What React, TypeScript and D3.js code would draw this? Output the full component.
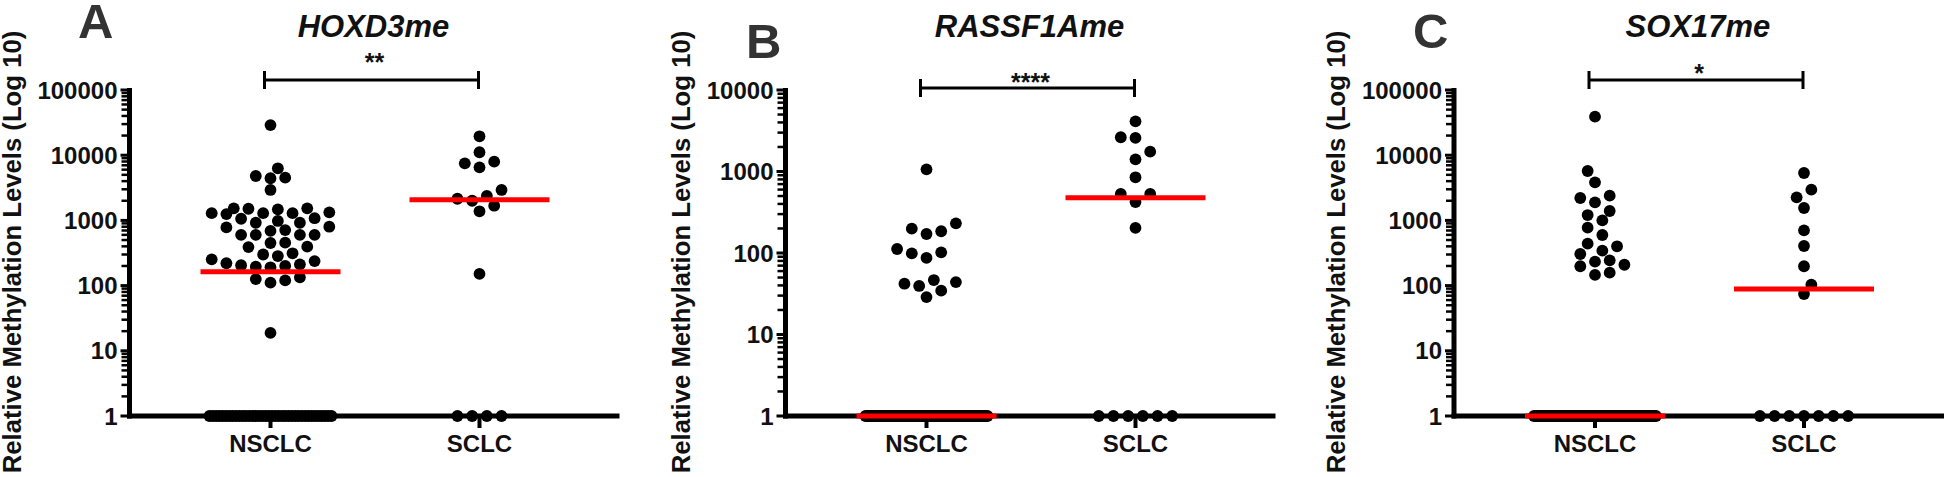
import React from 'react';
import * as d3 from 'd3';

// ---------- data ----------
const categories = ['NSCLC', 'SCLC'];
const panelLetters = ['A', 'B', 'C'];
const geneTitles = ['HOXD3me', 'RASSF1Ame', 'SOX17me'];
const significance = ['**', '****', '*'];
const yAxisTitle = 'Relative Methylation Levels (Log 10)';

const yTicksA = [1, 10, 100, 1000, 10000, 100000];
const yTicksB = [1, 10, 100, 1000, 10000];
const yTicksC = [1, 10, 100, 1000, 10000, 100000];

const hoxd3NSCLC = [29000, 6300, 4800, 4430, 4520, 2930, 1530, 1330, 1290, 1530, 1510, 1250, 1290, 1290, 1480,
  1060, 920, 800, 710, 690, 780, 920, 980, 1080, 600, 600, 450, 390, 395, 455, 600, 600, 300, 253, 195, 220, 205,
  200, 212, 238, 191, 284, 313, 126, 111, 120, 134, 18.8];
const hoxd3NSCLCUndetected = 38;
const hoxd3SCLC = [19500, 11100, 7960, 7510, 6510, 2930, 2370, 2000, 2150, 1680, 1380, 151];
const hoxd3SCLCUndetected = 4;

const rassf1aNSCLC = [1064, 199, 171, 185, 231, 112, 99, 87, 102, 42, 44, 34.5, 46.6, 39.4, 28.8];
const rassf1aNSCLCUndetected = 71;
const rassf1aSCLC = [4130, 2630, 2580, 1750, 1410, 849, 530, 530, 422, 203];
const rassf1aSCLCUndetected = 6;

const sox17NSCLC = [38950, 5725, 3838, 2393, 1895, 2206, 1393, 1209, 1003, 773, 597, 440, 401, 343, 305, 244, 233,
  209, 198, 158, 146];
const sox17NSCLCUndetected = 65;
const sox17SCLC = [5330, 2958, 2260, 1549, 705, 405, 198, 103, 74.3];
const sox17SCLCUndetected = 7;

// ---------- layout ----------
const W = 1944;
const H = 477;
const Y_BOTTOM = 416;
const Y_TOP = 90;
const FONT = '"Liberation Sans", Arial, Helvetica, sans-serif';
const DOT_R = 5.9;

type PanelCfg = {
  x0: number;
  ticks: number[];
  groups: { values: number[]; undetected: number }[];
  letterX: number;
  letterY: number;
  titleLabelX: number;
  bracketY: number;
  starDy: number;
};

const panels: PanelCfg[] = [
  {
    x0: 129.5, ticks: yTicksA,
    groups: [{ values: hoxd3NSCLC, undetected: hoxd3NSCLCUndetected }, { values: hoxd3SCLC, undetected: hoxd3SCLCUndetected }],
    letterX: 78, letterY: 38, titleLabelX: 21, bracketY: 80, starDy: 22,
  },
  {
    x0: 785.5, ticks: yTicksB,
    groups: [{ values: rassf1aNSCLC, undetected: rassf1aNSCLCUndetected }, { values: rassf1aSCLC, undetected: rassf1aSCLCUndetected }],
    letterX: 746, letterY: 58, titleLabelX: 690, bracketY: 88, starDy: 10.5,
  },
  {
    x0: 1454, ticks: yTicksC,
    groups: [{ values: sox17NSCLC, undetected: sox17NSCLCUndetected }, { values: sox17SCLC, undetected: sox17SCLCUndetected }],
    letterX: 1413, letterY: 48, titleLabelX: 1345, bracketY: 80, starDy: 11.5,
  },
];

// Beeswarm on a half-dot grid, capped to the column width
function swarm(values: number[], y: (v: number) => number) {
  const step = 7.35;
  const maxK = 8;
  const minDist = 11.5;
  const pts = values.map((v) => ({ v, y: y(v) })).sort((a, b) => b.y - a.y);
  const placed: { x: number; y: number }[] = [];
  let bias = 1;
  for (const p of pts) {
    let best: { x: number; d: number; k: number } | null = null;
    let chosen: number | null = null;
    for (let k = 0; k <= maxK && chosen === null; k++) {
      const cands = k === 0 ? [0] : [k * bias, -k * bias];
      for (const c of cands) {
        const x = c * step;
        const d = placed.length ? d3.min(placed, (q) => Math.hypot(q.x - x, q.y - p.y)) as number : Infinity;
        if (d >= minDist) { chosen = x; break; }
        if (!best || d > best.d + 0.5) best = { x, d, k };
      }
    }
    const fx = chosen !== null ? chosen : (best as { x: number }).x;
    placed.push({ x: fx, y: p.y });
    if (fx !== 0) bias = fx > 0 ? -1 : 1;
  }
  return placed;
}

function Panel({ cfg, idx }: { cfg: PanelCfg; idx: number }) {
  const { x0 } = cfg;
  const top = cfg.ticks[cfg.ticks.length - 1];
  const y = d3.scaleLog().domain([1, top]).range([Y_BOTTOM, Y_TOP]);
  const x = d3.scalePoint().domain(categories).range([x0 + 141, x0 + 350]);
  const axisEnd = x0 + 490;

  const minor: number[] = [];
  for (let e = 0; e < cfg.ticks.length - 1; e++) {
    for (let m = 2; m <= 9; m++) minor.push(cfg.ticks[e] * m);
  }

  const brL = (x(categories[0]) as number) - 6;
  const brR = (x(categories[1]) as number) - 1;

  return (
    <g>
      {/* panel letter */}
      <text x={cfg.letterX} y={cfg.letterY} fontFamily={FONT} fontWeight={700} fontSize={49} fill="#333">
        {panelLetters[idx]}
      </text>
      {/* title */}
      <text x={(brL + brR) / 2 + 2} y={37} textAnchor="middle" fontFamily={FONT} fontWeight={700} fontStyle="italic"
        fontSize={31} fill="#111">{geneTitles[idx]}</text>
      {/* y axis title */}
      <text transform={`translate(${cfg.titleLabelX},${252}) rotate(-90)`} textAnchor="middle" fontFamily={FONT}
        fontWeight={700} fontSize={25.7} fill="#111">{yAxisTitle}</text>

      {/* x axis */}
      <line x1={x0 - 2.5} x2={axisEnd} y1={Y_BOTTOM} y2={Y_BOTTOM} stroke="#000" strokeWidth={5} />
      {categories.map((c) => (
        <g key={c}>
          <line x1={x(c)} x2={x(c)} y1={Y_BOTTOM} y2={428} stroke="#000" strokeWidth={4} />
          <text x={x(c)} y={452} textAnchor="middle" fontFamily={FONT} fontWeight={700} fontSize={24} fill="#111">{c}</text>
        </g>
      ))}
      {/* y axis */}
      <line x1={x0} x2={x0} y1={Y_TOP - 2} y2={Y_BOTTOM + 2.5} stroke="#000" strokeWidth={5} />
      {minor.map((v, i) => (
        <line key={'m' + i} x1={x0 - 8} x2={x0} y1={y(v)} y2={y(v)} stroke="#000" strokeWidth={2.5} />
      ))}
      {cfg.ticks.map((v) => (
        <g key={v}>
          <line x1={x0 - 9} x2={x0} y1={y(v)} y2={y(v)} stroke="#000" strokeWidth={3} />
          <text x={x0 - 12} y={y(v)} dy="0.36em" textAnchor="end" fontFamily={FONT} fontWeight={700} fontSize={24}
            fill="#111">{String(v)}</text>
        </g>
      ))}

      {/* points */}
      {cfg.groups.map((g, gi) => {
        const cx = x(categories[gi]) as number;
        const sw = swarm(g.values, (v) => y(v));
        const n = g.undetected;
        const spacing = n > 1 ? Math.min(14.7, 122 / (n - 1)) : 0;
        const zeros = d3.range(n).map((i) => cx + (i - (n - 1) / 2) * spacing);
        const all = g.values.concat(d3.range(n).map(() => 1));
        const med = d3.median(all) as number;
        return (
          <g key={gi}>
            {zeros.map((zx, i) => <circle key={'z' + i} cx={zx} cy={Y_BOTTOM} r={DOT_R} fill="#000" />)}
            {sw.map((p, i) => <circle key={i} cx={cx + p.x} cy={p.y} r={DOT_R} fill="#000" />)}
            <line x1={cx - 70} x2={cx + 70} y1={y(med)} y2={y(med)} stroke="#ff0000" strokeWidth={5} />
          </g>
        );
      })}

      {/* significance bracket */}
      <path d={`M${brL},${cfg.bracketY - 9}V${cfg.bracketY + 9}M${brL},${cfg.bracketY}H${brR}M${brR},${cfg.bracketY - 9}V${cfg.bracketY + 9}`}
        stroke="#000" strokeWidth={3} fill="none" />
      <text x={(brL + brR) / 2 + 3} y={cfg.bracketY - cfg.starDy + 13} textAnchor="middle" fontFamily={FONT}
        fontWeight={700} fontSize={25} fill="#111">{significance[idx]}</text>
    </g>
  );
}

export default function App() {
  return (
    <svg width={W} height={H} style={{ position: 'absolute', left: 0, top: 0, background: '#fff' }}>
      <rect width={W} height={H} fill="#fff" />
      {panels.map((p, i) => <Panel key={i} cfg={p} idx={i} />)}
    </svg>
  );
}
